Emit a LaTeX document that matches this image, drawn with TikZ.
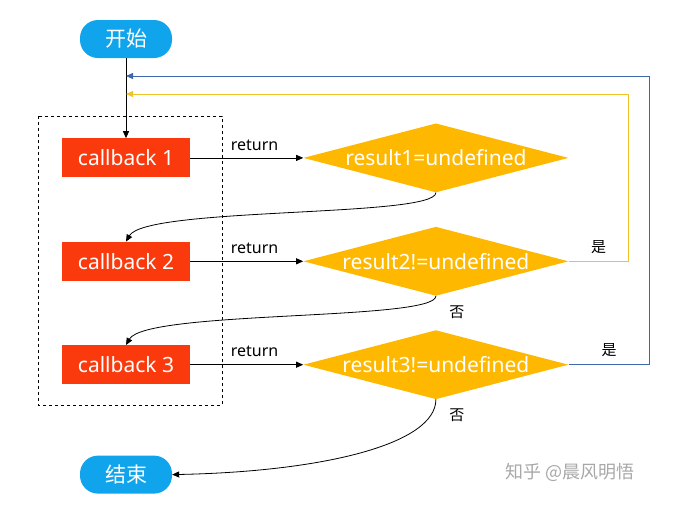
\documentclass[tikz,border=0pt]{standalone}
\usepackage{fontspec}
\setmainfont{Noto Sans}
\newfontfamily\cjk{Noto Sans CJK SC}
\usetikzlibrary{arrows.meta, positioning, shapes.geometric}
\definecolor{pillblue}{RGB}{16,164,236}
\definecolor{cbred}{RGB}{250,58,12}
\definecolor{condgold}{RGB}{255,184,0}
\definecolor{loopblue}{RGB}{62,104,168}
\definecolor{loopyellow}{RGB}{240,196,40}
\definecolor{markgray}{RGB}{168,168,168}

\begin{document}
\begin{tikzpicture}[x=1pt, y=-1pt,
  pill/.style={fill=pillblue, text=white, rounded corners=18pt, minimum width=92pt, minimum height=38pt, font=\cjk\fontsize{21}{24}\selectfont},
  cbbox/.style={fill=cbred, text=white, minimum width=128pt, minimum height=39pt, font=\fontsize{21}{24}\selectfont},
  cond/.style={diamond, fill=condgold, text=white, aspect=3.84, inner sep=0pt, minimum width=265pt, minimum height=69pt, font=\fontsize{21}{24}\selectfont},
  arrow/.style={-{Triangle[length=7pt,width=6pt]}, line width=0.8pt},
  lbl/.style={font=\fontsize{16}{18}\selectfont},
  yn/.style={font=\cjk\fontsize{15}{17}\selectfont}
]
\useasboundingbox (0,0) rectangle (686,512);

% callbacks
\node[pill] (start) at (126,39) {开始};
\node[cbbox, below=80pt of start] (c1) {callback 1};
\node[cbbox, below=64pt of c1] (c2) {callback 2};
\node[cbbox, below=64pt of c2] (c3) {callback 3};
\node[pill, below=71pt of c3] (end) {结束};
\draw[dashed, line width=0.8pt] (38,116) rectangle (222,405);

% conditions
\node[cond, right=113pt of c1] (r1) {result1=undefined};
\node[cond, right=113pt of c2] (r2) {result2!=undefined};
\node[cond, right=113pt of c3] (r3) {result3!=undefined};

% return
\draw[arrow] (c1.east) -- node[lbl, above=4pt, pos=0.57]{return} (r1.west);
\draw[arrow] (c2.east) -- node[lbl, above=4pt, pos=0.57]{return} (r2.west);
\draw[arrow] (c3.east) -- node[lbl, above=4pt, pos=0.57]{return} (r3.west);

% loops back
\coordinate (jb) at (126,76);
\coordinate (jy) at (126,94);
\draw[arrow] (start.south) -- (c1.north);
\draw[arrow, color=loopyellow] (r2.east) -- node[yn, above=4pt, text=black]{是} ++(60,0) |- (jy);
\draw[arrow, color=loopblue] (r3.east) -- node[yn, above=4pt, text=black]{是} ++(81,0) |- (jb);

% next callback
\draw[arrow] (r1.south) .. controls +(0,25) and +(20,-35) .. (c2.north);
\draw[arrow] (r2.south) .. controls +(0,25) and +(20,-35) .. (c3.north);
\draw[arrow] (r3.south) .. controls +(0,45) and +(150,-3) .. (end.east);
\node[yn, anchor=north west] (no2) at ([xshift=10pt, yshift=-6pt]r2.south) {否};
\node[yn, anchor=north west] (no3) at ([xshift=10pt, yshift=-6pt]r3.south) {否};

\node[text=markgray, font=\cjk\fontsize{18}{20}\selectfont] (mark) at (570,472) {知乎 @晨风明悟};
\end{tikzpicture}
\end{document}
